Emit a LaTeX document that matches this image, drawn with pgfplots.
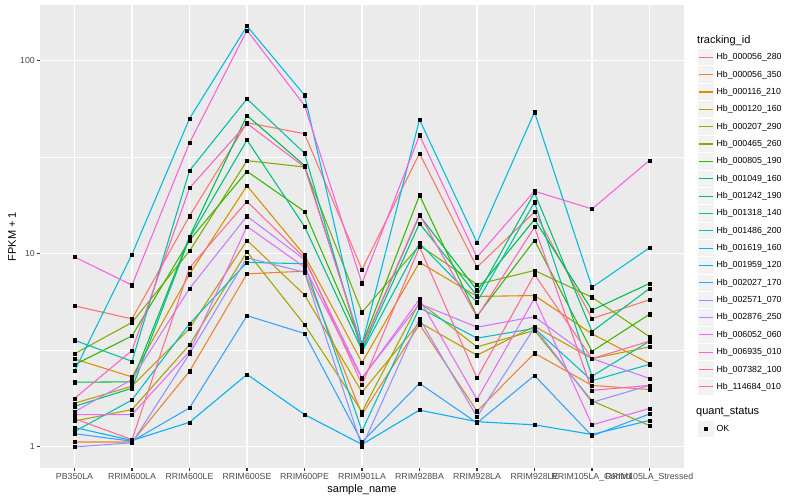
\documentclass[border=0pt]{standalone}
\usepackage{fontspec}
\setmainfont{Liberation Sans}
\usepackage{pgfplots}
\usepackage{pgfplotstable}
\pgfplotsset{compat=1.18}
\definecolor{panelbg}{HTML}{EBEBEB}
\definecolor{keybg}{HTML}{F2F2F2}
\definecolor{tickc}{HTML}{333333}
\definecolor{labc}{HTML}{4D4D4D}
\definecolor{c1}{HTML}{F8766D}
\definecolor{c2}{HTML}{EA8331}
\definecolor{c3}{HTML}{D89000}
\definecolor{c4}{HTML}{C09B00}
\definecolor{c5}{HTML}{A3A500}
\definecolor{c6}{HTML}{7CAE00}
\definecolor{c7}{HTML}{39B600}
\definecolor{c8}{HTML}{00BB4E}
\definecolor{c9}{HTML}{00BF7D}
\definecolor{c10}{HTML}{00C1A3}
\definecolor{c11}{HTML}{00BFC4}
\definecolor{c12}{HTML}{00BAE0}
\definecolor{c13}{HTML}{00B0F6}
\definecolor{c14}{HTML}{35A2FF}
\definecolor{c15}{HTML}{9590FF}
\definecolor{c16}{HTML}{C77CFF}
\definecolor{c17}{HTML}{E76BF3}
\definecolor{c18}{HTML}{FA62DB}
\definecolor{c19}{HTML}{FF62BC}
\definecolor{c20}{HTML}{FF6C91}

\pgfplotstableread{
x  s1    s2   s3   s4   s5   s6   s7   s8   s9   s10  s11  s12  s13  s14  s15  s16  s17  s18   s19  s20
0  5.36  1.06 2.85 1.68 1.36 3.03 2.66 2.16 1.62 3.56 1.20 2.47 1.26 1.17 1.00 1.52 1.47 9.6   1.78 1.40
1  4.59  1.06 2.30 2.06 1.56 4.40 3.75 2.17 2.01 2.77 1.75 9.9  1.08 1.07 1.05 2.23 1.47 6.86  3.15 1.09
2  15.6  2.46 7.82 4.09 3.37 10.3 11.7 12.2 12.0 26.8 4.33 49.8 1.34 1.59 3.03 6.59 3.11 37.3  21.8 8.43
3  47.5  7.85 22.4 11.7 10.2 30.2 26.6 51.7 38.6 63.0 9.0  150  2.37 4.77 9.5  15.6 13.8 142.5 47.0 18.6
4  41.6  8.1  9.8  6.11 4.29 28.0 16.5 28.5 13.8 33.0 8.85 65.9 1.47 3.86 8.0  9.3  8.5  58.3  28.0 9.5
5  8.27  1.47 2.73 1.92 1.52 4.97 3.38 3.29 3.16 3.10 1.21 3.38 1.03 1.06 1.00 2.28 2.26 7.02  3.3  2.10
6  32.9  4.3  9.0  4.4  5.6  11.0 20.0 15.7 14.3 11.3 5.24 49.2 1.55 2.13 4.6  5.5  5.8  40.9  15.9 10.8
7  8.49  1.53 6.0  2.98 3.29 6.92 4.75 6.46 6.05 5.6  3.65 11.4 1.35 1.33 1.43 4.16 1.76 9.57  4.7  2.27
8  16.4  3.05 6.06 4.2  4.0  8.17 11.7 15.0 20.6 18.4 4.1  53.8 1.30 2.34 4.14 4.71 5.87 21.0  13.7 7.79
9  4.61  2.08 3.84 2.86 1.73 5.94 3.12 5.09 3.95 2.32 2.20 6.69 1.16 1.14 1.70 2.86 1.30 17.0  1.96 2.86
10 5.76  1.98 2.70 3.29 1.29 3.71 4.85 7.0  6.59 3.52 2.67 10.7 1.37 1.48 2.08 2.26 1.58 30.3  2.08 3.52
}\datatable

\begin{document}
\begin{tikzpicture}
\fill[white] (-40pt,-32pt) rectangle (760pt,468pt);
\useasboundingbox (-40pt,-32pt) rectangle (760pt,468pt);
\begin{axis}[
  at={(0pt,0pt)}, anchor=south west,
  scale only axis, width=644pt, height=463pt,
  xmin=-0.6, xmax=10.6,
  ymode=log, ymin=0.778, ymax=192.7,
  xtick={0,...,10},
  xticklabels={PB350LA,RRIM600LA,RRIM600LE,RRIM600SE,RRIM600PE,RRIM901LA,RRIM928BA,RRIM928LA,RRIM928LE,RRIM105LA\_Control,RRIM105LA\_Stressed},
  ytick={1,10,100}, yticklabels={1,10,100},
  minor ytick={3.1623,31.623},
  grid=both,
  major grid style={white, line width=1.07pt},
  minor grid style={white, line width=0.53pt},
  axis background/.style={fill=panelbg},
  axis line style={draw=none},
  tick align=outside, tick pos=left,
  major tick length=2.75pt, minor tick length=0pt,
  every tick/.style={tickc, line width=1.07pt},
  tick label style={font=\fontsize{8.8}{10}\selectfont, text=labc},
  xticklabel style={inner sep=0pt, anchor=north, yshift=-2.2pt},
  yticklabel style={inner sep=0pt, anchor=east, xshift=-2.2pt},
  xlabel={sample\_name}, ylabel={FPKM + 1},
  label style={font=\fontsize{11}{13}\selectfont},
  xlabel style={at={(axis description cs:0.5,-0.0345)}, anchor=north, inner sep=0pt},
  ylabel style={at={(axis description cs:-0.0435,0.5)}, anchor=center, inner sep=0pt},
  legend cell align=left,
  legend style={at={(1.02065,0.90583)}, anchor=north west, draw=none, fill=none,
    inner sep=0pt, outer sep=0pt, row sep=0pt, column sep=0pt,
    font=\fontsize{8.8}{10}\selectfont, nodes={inner sep=0pt, text=black}},
  legend image code/.code={%
    \path[draw=none, fill=none] (0pt,-8.675pt) rectangle (19.2pt,8.675pt);
    \path[fill=keybg, draw=none] (0.5pt,-8.14pt) rectangle (16.8pt,8.14pt);
    \draw[#1, line width=1.07pt] (1.73pt,0pt) -- (15.55pt,0pt);},
]
\addplot[c1, line width=1.07pt] table[x=x,y=s1]{\datatable}; \addlegendentry{Hb\_000056\_280}
\addplot[c2, line width=1.07pt] table[x=x,y=s2]{\datatable}; \addlegendentry{Hb\_000056\_350}
\addplot[c3, line width=1.07pt] table[x=x,y=s3]{\datatable}; \addlegendentry{Hb\_000116\_210}
\addplot[c4, line width=1.07pt] table[x=x,y=s4]{\datatable}; \addlegendentry{Hb\_000120\_160}
\addplot[c5, line width=1.07pt] table[x=x,y=s5]{\datatable}; \addlegendentry{Hb\_000207\_290}
\addplot[c6, line width=1.07pt] table[x=x,y=s6]{\datatable}; \addlegendentry{Hb\_000465\_260}
\addplot[c7, line width=1.07pt] table[x=x,y=s7]{\datatable}; \addlegendentry{Hb\_000805\_190}
\addplot[c8, line width=1.07pt] table[x=x,y=s8]{\datatable}; \addlegendentry{Hb\_001049\_160}
\addplot[c9, line width=1.07pt] table[x=x,y=s9]{\datatable}; \addlegendentry{Hb\_001242\_190}
\addplot[c10, line width=1.07pt] table[x=x,y=s10]{\datatable}; \addlegendentry{Hb\_001318\_140}
\addplot[c11, line width=1.07pt] table[x=x,y=s11]{\datatable}; \addlegendentry{Hb\_001486\_200}
\addplot[c12, line width=1.07pt] table[x=x,y=s12]{\datatable}; \addlegendentry{Hb\_001619\_160}
\addplot[c13, line width=1.07pt] table[x=x,y=s13]{\datatable}; \addlegendentry{Hb\_001959\_120}
\addplot[c14, line width=1.07pt] table[x=x,y=s14]{\datatable}; \addlegendentry{Hb\_002027\_170}
\addplot[c15, line width=1.07pt] table[x=x,y=s15]{\datatable}; \addlegendentry{Hb\_002571\_070}
\addplot[c16, line width=1.07pt] table[x=x,y=s16]{\datatable}; \addlegendentry{Hb\_002876\_250}
\addplot[c17, line width=1.07pt] table[x=x,y=s17]{\datatable}; \addlegendentry{Hb\_006052\_060}
\addplot[c18, line width=1.07pt] table[x=x,y=s18]{\datatable}; \addlegendentry{Hb\_006935\_010}
\addplot[c19, line width=1.07pt] table[x=x,y=s19]{\datatable}; \addlegendentry{Hb\_007382\_100}
\addplot[c20, line width=1.07pt] table[x=x,y=s20]{\datatable}; \addlegendentry{Hb\_114684\_010}
\pgfplotsinvokeforeach{1,...,20}{
  \addplot[only marks, mark=square*, mark size=1.6pt, black, forget plot] table[x=x,y=s#1]{\datatable};
}
\end{axis}
\begin{axis}[
  at={(0pt,0pt)}, anchor=south west,
  scale only axis, width=644pt, height=463pt,
  hide axis, xmin=0, xmax=1, ymin=0, ymax=1,
  legend cell align=left,
  legend style={at={(1.02065,0.1030)}, anchor=north west, draw=none, fill=none,
    inner sep=0pt, outer sep=0pt, row sep=0pt, column sep=0pt,
    font=\fontsize{8.8}{10}\selectfont, nodes={inner sep=0pt, text=black}},
  legend image code/.code={%
    \path[draw=none, fill=none] (0pt,-8.675pt) rectangle (19.2pt,8.675pt);
    \path[fill=keybg, draw=none] (0.5pt,-8.14pt) rectangle (16.8pt,8.14pt);
    \draw[#1] plot coordinates {(8.64pt,0pt)};},
]
\addlegendimage{only marks, mark=square*, mark size=1.6pt, black}
\addlegendentry{OK}
\end{axis}
\node[anchor=base west, inner sep=0pt, font=\fontsize{11}{13}\selectfont] at (657pt,424.7pt) {tracking\_id};
\node[anchor=base west, inner sep=0pt, font=\fontsize{11}{13}\selectfont] at (656pt,53pt) {quant\_status};
\end{tikzpicture}
\end{document}
